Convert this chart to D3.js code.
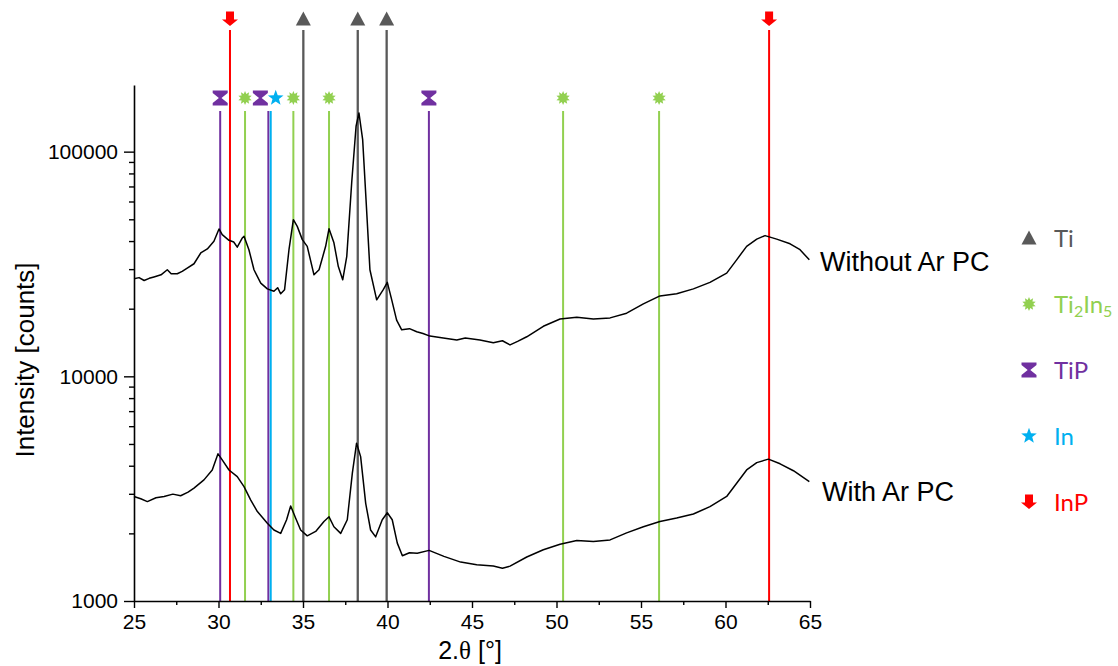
<!DOCTYPE html>
<html>
<head>
<meta charset="utf-8">
<script src="https://cdn.jsdelivr.net/npm/d3@7"></script>
<style>
  html, body { margin: 0; padding: 0; background: #fff; }
  svg { display: block; }
</style>
</head>
<body>
<svg id="chart" width="1118" height="666"></svg>
<script>
// ---------------- DATA ----------------
// "Without Ar PC" diffractogram: 2theta (deg) and intensity (counts)
const withoutTheta = [25.0, 25.3, 25.6, 25.9, 26.18, 26.6, 26.97, 27.2, 27.56, 27.85, 28.15, 28.55, 28.95, 29.34, 29.73, 30.03, 30.22, 30.62, 30.9, 31.11, 31.41, 31.51, 31.8, 32.1, 32.5, 32.89, 33.28, 33.5, 33.68, 33.91, 34.17, 34.43, 34.66, 34.96, 35.25, 35.65, 35.95, 36.34, 36.54, 36.83, 37.09, 37.35, 37.59, 37.88, 38.14, 38.31, 38.53, 38.73, 38.96, 39.36, 39.75, 39.99, 40.25, 40.54, 40.84, 41.3, 41.73, 42.1, 42.51, 43.3, 44.1, 44.6, 45.47, 46.26, 46.8, 47.25, 47.7, 48.24, 49.22, 50.21, 51.2, 52.18, 53.17, 54.15, 55.14, 56.12, 57.11, 58.1, 59.08, 60.07, 60.66, 61.25, 61.85, 62.34, 63.03, 63.82, 64.41, 64.96];
const withoutCounts = [27200, 27500, 26700, 27300, 27700, 28300, 29800, 28600, 28600, 29300, 30300, 31700, 35400, 36900, 39900, 45300, 42700, 40300, 39600, 37600, 41300, 42000, 36600, 29800, 26000, 24500, 23900, 24800, 23300, 24300, 36600, 49800, 46500, 40600, 37900, 28300, 29800, 37900, 45400, 39300, 30800, 26900, 34200, 72500, 129700, 148700, 113100, 61100, 29800, 21900, 24300, 26200, 21900, 17800, 16100, 16300, 15800, 15500, 15100, 14800, 14500, 14800, 14500, 14100, 14400, 13800, 14300, 15000, 16700, 18000, 18300, 18000, 18200, 19100, 21000, 22800, 23300, 24500, 26200, 28800, 33000, 37900, 40800, 42300, 40800, 38900, 36600, 33000];

// "With Ar PC" diffractogram
const withTheta = [25.0, 25.4, 25.79, 26.3, 26.78, 27.3, 27.76, 28.2, 28.55, 29.14, 29.63, 29.97, 30.22, 30.62, 31.11, 31.51, 31.9, 32.3, 32.89, 33.28, 33.68, 34.03, 34.27, 34.56, 34.86, 35.25, 35.75, 36.24, 36.54, 36.83, 37.23, 37.62, 37.92, 38.17, 38.41, 38.71, 39.0, 39.3, 39.69, 39.99, 40.28, 40.58, 40.88, 41.3, 41.76, 42.46, 43.34, 44.33, 45.28, 46.26, 46.8, 47.25, 48.24, 49.22, 50.21, 51.2, 52.18, 53.17, 54.15, 55.14, 56.12, 57.11, 58.1, 59.08, 60.07, 60.66, 61.25, 61.85, 62.54, 63.23, 64.02, 64.96];
const withCounts = [2920, 2850, 2770, 2880, 2920, 2990, 2940, 3050, 3180, 3460, 3830, 4520, 4250, 3830, 3580, 3230, 2820, 2500, 2220, 2070, 2000, 2300, 2650, 2340, 2070, 1950, 2040, 2260, 2370, 2140, 2000, 2300, 3710, 5040, 4390, 2720, 2070, 1930, 2300, 2470, 2300, 1810, 1590, 1640, 1630, 1680, 1580, 1490, 1450, 1430, 1400, 1430, 1570, 1690, 1790, 1860, 1840, 1870, 2010, 2140, 2260, 2340, 2440, 2630, 2920, 3340, 3830, 4130, 4280, 4080, 3800, 3400];

const seriesLabels = ["Without Ar PC", "With Ar PC"];

// Reference peak positions (2theta) for each phase
const phaseNames = ["Ti", "Ti2In5", "TiP", "In", "InP"];
const peaksTi = [35.02, 38.24, 39.95];
const peaksTi2In5 = [31.57, 34.43, 36.54, 50.39, 56.07];
const peaksTiP = [30.1, 32.95, 42.45];
const peaksIn = [33.09];
const peaksInP = [30.68, 62.58];

const xTickValues = [25, 30, 35, 40, 45, 50, 55, 60, 65];
const yTickValues = [1000, 10000, 100000];

// ---------------- STYLE / LAYOUT ----------------
(function () {
const phaseColors = { Ti: "#595959", Ti2In5: "#92D050", TiP: "#7030A0", In: "#00B0F0", InP: "#FF0000" };
const svg = d3.select("#chart");
const pLeft = 134, pRight = 810, pTop = 85, pBottom = 601;
const x = d3.scaleLinear().domain([25, 65]).range([pLeft, pRight]);
const y = d3.scaleLog().domain([1000, 198000]).range([pBottom, pTop]);

const sansFont = "'Liberation Sans', Arial, sans-serif";
const legendFont = "Lato, 'Open Sans', sans-serif";

function starPath(points, rOut, rIn) {
  let p = [];
  for (let i = 0; i < points * 2; i++) {
    const r = i % 2 === 0 ? rOut : rIn;
    const a = -Math.PI / 2 + i * Math.PI / points;
    p.push([r * Math.cos(a), r * Math.sin(a)]);
  }
  return "M" + p.map(d => d[0].toFixed(2) + "," + d[1].toFixed(2)).join("L") + "Z";
}
const symbols = {
  Ti: "M0,-7.5L7.5,6.5L-7.5,6.5Z",
  InP: "M-4,-7.5H4V0.5H8L0,7L-8,0.5H-4Z",
  TiP: "M-7.5,-7.5H7.5V-5L1.3,0L7.5,5V7.5H-7.5V5L-1.3,0L-7.5,-5Z",
  Ti2In5: starPath(10, 7, 4.2),
  In: starPath(5, 8.2, 3.4)
};

// ---------------- REFERENCE LINES ----------------
const lineGroups = [
  { name: "TiP", peaks: peaksTiP, y0: 111, my: 98, nudge: { 1: -8 } },
  { name: "Ti2In5", peaks: peaksTi2In5, y0: 111, my: 98, nudge: {} },
  { name: "In", peaks: peaksIn, y0: 111, my: 98, nudge: { 0: 5 } },
  { name: "Ti", peaks: peaksTi, y0: 30, my: 19, nudge: {} },
  { name: "InP", peaks: peaksInP, y0: 30, my: 19, nudge: {} }
];
const refG = svg.append("g");
lineGroups.forEach(g => {
  refG.selectAll(null).data(g.peaks).enter().append("line")
    .attr("x1", d => x(d)).attr("x2", d => x(d))
    .attr("y1", g.y0).attr("y2", pBottom)
    .attr("stroke", phaseColors[g.name])
    .attr("stroke-width", g.name === "Ti" ? 2.3 : 2);
});
lineGroups.forEach(g => {
  refG.selectAll(null).data(g.peaks).enter().append("path")
    .attr("d", symbols[g.name])
    .attr("transform", (d, i) => `translate(${x(d) + (g.nudge[i] || 0)},${g.my})`)
    .attr("fill", phaseColors[g.name]);
});

// ---------------- CURVES ----------------
const line = d3.line().x(d => x(d[0])).y(d => y(d[1]));
const curves = [
  d3.zip(withoutTheta, withoutCounts),
  d3.zip(withTheta, withCounts)
];
svg.append("g").selectAll("path").data(curves).enter().append("path")
  .attr("d", line)
  .attr("fill", "none")
  .attr("stroke", "#000")
  .attr("stroke-width", 1.5)
  .attr("stroke-linejoin", "round");

const curveLabelPos = [[820, 271], [822, 501]];
svg.selectAll(null).data(seriesLabels).enter().append("text")
  .attr("x", (d, i) => curveLabelPos[i][0])
  .attr("y", (d, i) => curveLabelPos[i][1])
  .attr("font-family", sansFont)
  .attr("font-size", 27)
  .attr("fill", "#000")
  .text(d => d);

// ---------------- AXES ----------------
const xAxisMinor = d3.axisBottom(x).tickValues(d3.range(27.5, 65, 5)).tickSize(4).tickFormat("").tickSizeOuter(0);
svg.append("g").attr("transform", `translate(0,${pBottom})`).call(xAxisMinor)
  .call(g => g.select(".domain").remove())
  .selectAll("line").attr("stroke", "#000").attr("stroke-width", 1.4);

const xAxis = d3.axisBottom(x).tickValues(xTickValues).tickSize(7).tickPadding(6).tickSizeOuter(0);
const gx = svg.append("g").attr("transform", `translate(0,${pBottom})`).call(xAxis);
gx.select(".domain").attr("stroke", "#000").attr("stroke-width", 1.6);
gx.selectAll(".tick line").attr("stroke", "#000").attr("stroke-width", 1.4);
gx.selectAll("text").attr("font-family", sansFont).attr("font-size", 21).attr("fill", "#000");

const yMinorVals = [];
[1000, 10000, 100000].forEach(b => { for (let k = 2; k <= 9; k++) if (b * k < 198000) yMinorVals.push(b * k); });
const yAxisMinor = d3.axisLeft(y).tickValues(yMinorVals).tickSize(5).tickFormat("").tickSizeOuter(0);
svg.append("g").attr("transform", `translate(${pLeft},0)`).call(yAxisMinor)
  .call(g => g.select(".domain").remove())
  .selectAll("line").attr("stroke", "#000").attr("stroke-width", 1.4);

const yAxis = d3.axisLeft(y).tickValues(yTickValues).tickFormat(d3.format("d")).tickSize(10).tickPadding(6).tickSizeOuter(0);
const gy = svg.append("g").attr("transform", `translate(${pLeft},0)`).call(yAxis);
gy.select(".domain").attr("stroke", "#000").attr("stroke-width", 1.6);
gy.selectAll(".tick line").attr("stroke", "#000").attr("stroke-width", 1.4);
gy.selectAll("text").attr("font-family", sansFont).attr("font-size", 21).attr("fill", "#000");

svg.append("text")
  .attr("transform", "translate(34,360) rotate(-90)")
  .attr("text-anchor", "middle")
  .attr("font-family", sansFont).attr("font-size", 26).attr("fill", "#000")
  .text("Intensity [counts]");

const xt = svg.append("text")
  .attr("x", 470).attr("y", 659)
  .attr("text-anchor", "middle")
  .attr("font-family", sansFont).attr("font-size", 25).attr("fill", "#000");
xt.append("tspan").text("2.");
xt.append("tspan").attr("font-family", "'Liberation Serif', 'DejaVu Serif', serif").text("θ");
xt.append("tspan").text(" [°]");

// ---------------- LEGEND ----------------
const legendX = 1029, legendTextX = 1054;
const legendLabels = [
  [["Ti", false]],
  [["Ti", false], ["2", true], ["In", false], ["5", true]],
  [["TiP", false]],
  [["In", false]],
  [["InP", false]]
];
phaseNames.forEach((name, i) => {
  const cy = 238 + i * 66;
  svg.append("path").attr("d", symbols[name])
    .attr("transform", `translate(${legendX},${cy})`)
    .attr("fill", phaseColors[name]);
  const t = svg.append("text")
    .attr("x", legendTextX).attr("y", cy + 8.5)
    .attr("font-family", legendFont).attr("font-size", 24)
    .attr("fill", phaseColors[name]);
  legendLabels[i].forEach(([s, sub]) => {
    const ts = t.append("tspan").text(s);
    if (sub) ts.attr("font-size", 16).attr("baseline-shift", "-25%");
  });
});
})();
</script>
</body>
</html>
